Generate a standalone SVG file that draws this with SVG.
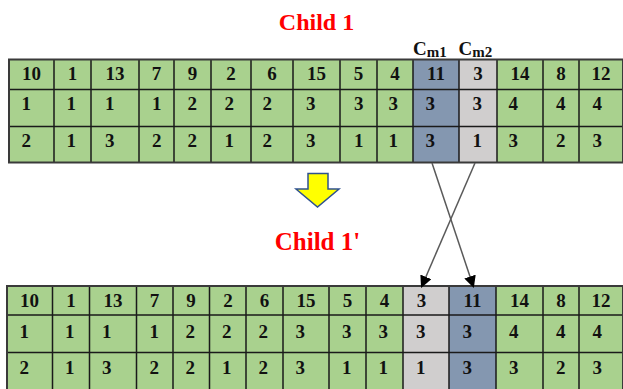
<svg xmlns="http://www.w3.org/2000/svg" width="623" height="389" viewBox="0 0 623 389">
  <defs>
    <style>
      .title { font-family: "Liberation Serif", "Times New Roman", serif; font-weight: bold; fill: #ff0000; text-anchor: middle; }
      .cell { font-family: "Liberation Serif", "Times New Roman", serif; font-weight: bold; font-size: 19px; fill: #111111; }
      .mid { text-anchor: middle; }
      .lbl { font-family: "Liberation Serif", "Times New Roman", serif; font-weight: bold; font-size: 19px; fill: #111111; }
      .green { fill: #a9d18e; }
      .blue { fill: #8497b0; }
      .grey { fill: #d0cece; }
      .grid { stroke: #1a1a1a; stroke-width: 1.5; fill: none; }
      .frame { stroke: #3a3a3a; stroke-width: 2; fill: none; }
      .link { stroke: #5a5a5a; stroke-width: 1.5; fill: none; marker-end: url(#head); }
    </style>
    <marker id="head" markerWidth="12" markerHeight="12" refX="11" refY="6" orient="auto" markerUnits="userSpaceOnUse">
      <path d="M0,0 L12,6 L0,12 Z" fill="#000000"/>
    </marker>
  </defs>

  <rect width="623" height="389" fill="#ffffff"/>

  <!-- heading of the first chromosome -->
  <g id="title-child1">
    <text class="title" x="316.5" y="29.5" font-size="24">Child 1</text>
  </g>

  <!-- column markers -->
  <g id="cm-labels">
    <text class="lbl" x="413" y="55">C<tspan font-size="15" dy="1.5">m1</tspan></text>
    <text class="lbl" x="458.5" y="55">C<tspan font-size="15" dy="1.5">m2</tspan></text>
  </g>

  <!-- first chromosome table -->
  <g id="table-child1">
    <rect class="green" x="9" y="59.5" width="613" height="103"/>
    <rect class="blue" x="413" y="59.5" width="46" height="103"/>
    <rect class="grey" x="459" y="59.5" width="38" height="103"/>
    <path class="grid" d="M9,89.5H622M9,126.5H622
      M54,59.5V162.5M91,59.5V162.5M139,59.5V162.5M174,59.5V162.5M211,59.5V162.5M251,59.5V162.5
      M293,59.5V162.5M340,59.5V162.5M377,59.5V162.5M413,59.5V162.5M459,59.5V162.5M497,59.5V162.5
      M543,59.5V162.5M579,59.5V162.5"/>
    <rect class="frame" x="9" y="59.5" width="614" height="103"/>
    <g class="cell mid">
      <text x="31.5" y="79.5">10</text><text x="72.5" y="79.5">1</text><text x="115" y="79.5">13</text>
      <text x="156.5" y="79.5">7</text><text x="192.5" y="79.5">9</text><text x="231" y="79.5">2</text>
      <text x="272" y="79.5">6</text><text x="316.5" y="79.5">15</text><text x="358.5" y="79.5">5</text>
      <text x="395" y="79.5">4</text><text x="436" y="79.5">11</text><text x="478" y="79.5">3</text>
      <text x="520" y="79.5">14</text><text x="561" y="79.5">8</text><text x="601" y="79.5">12</text>
    </g>
    <g class="cell">
      <text x="21.5" y="109.5">1</text><text x="66.5" y="109.5">1</text><text x="105" y="109.5">1</text>
      <text x="152" y="109.5">1</text><text x="187.5" y="109.5">2</text><text x="224.5" y="109.5">2</text>
      <text x="262.5" y="109.5">2</text><text x="306" y="109.5">3</text><text x="354" y="109.5">3</text>
      <text x="388.5" y="109.5">3</text><text x="425.5" y="109.5">3</text><text x="472.5" y="109.5">3</text>
      <text x="508.5" y="109.5">4</text><text x="556" y="109.5">4</text><text x="592.5" y="109.5">4</text>

      <text x="21.5" y="146.5">2</text><text x="66.5" y="146.5">1</text><text x="105" y="146.5">3</text>
      <text x="152" y="146.5">2</text><text x="187.5" y="146.5">2</text><text x="224.5" y="146.5">1</text>
      <text x="262.5" y="146.5">2</text><text x="306" y="146.5">3</text><text x="354" y="146.5">1</text>
      <text x="388.5" y="146.5">1</text><text x="425.5" y="146.5">3</text><text x="472.5" y="146.5">1</text>
      <text x="508.5" y="146.5">3</text><text x="556" y="146.5">2</text><text x="592.5" y="146.5">3</text>
    </g>
  </g>

  <!-- block arrow between the two chromosomes -->
  <g id="step-arrow">
    <polygon points="308,173.5 328,173.5 328,189 339,189 317.5,207 296,189 308,189" fill="#ffff00" stroke="#2f528f" stroke-width="1.5" stroke-linejoin="miter"/>
  </g>

  <!-- heading of the mutated chromosome -->
  <g id="title-child1p">
    <text class="title" x="317.5" y="250" font-size="25">Child 1'</text>
  </g>

  <!-- mutated chromosome table -->
  <g id="table-child1p">
    <rect class="green" x="7" y="286" width="615" height="106"/>
    <rect class="grey" x="403" y="286" width="46" height="106"/>
    <rect class="blue" x="449" y="286" width="47" height="106"/>
    <path class="grid" d="M7,315H622M7,352.5H622
      M52.5,286V392M89.5,286V392M136.5,286V392M173,286V392M209.5,286V392M246,286V392
      M283,286V392M329,286V392M366,286V392M403,286V392M449,286V392M496,286V392
      M543,286V392M579,286V392"/>
    <rect class="frame" x="7" y="286" width="616" height="106"/>
    <g class="cell mid">
      <text x="29.5" y="306.5">10</text><text x="71" y="306.5">1</text><text x="113" y="306.5">13</text>
      <text x="154.5" y="306.5">7</text><text x="191" y="306.5">9</text><text x="228" y="306.5">2</text>
      <text x="264.5" y="306.5">6</text><text x="306" y="306.5">15</text><text x="347.5" y="306.5">5</text>
      <text x="384.5" y="306.5">4</text><text x="421.5" y="306.5">3</text><text x="472.5" y="306.5">11</text>
      <text x="519.5" y="306.5">14</text><text x="561" y="306.5">8</text><text x="601" y="306.5">12</text>
    </g>
    <g class="cell">
      <text x="19.5" y="337.5">1</text><text x="65" y="337.5">1</text><text x="102" y="337.5">1</text>
      <text x="149.5" y="337.5">1</text><text x="185.5" y="337.5">2</text><text x="222" y="337.5">2</text>
      <text x="258.5" y="337.5">2</text><text x="295.5" y="337.5">3</text><text x="342" y="337.5">3</text>
      <text x="378.5" y="337.5">3</text><text x="416" y="337.5">3</text><text x="462.5" y="337.5">3</text>
      <text x="509" y="337.5">4</text><text x="556" y="337.5">4</text><text x="592.5" y="337.5">4</text>

      <text x="19.5" y="374">2</text><text x="65" y="374">1</text><text x="102" y="374">3</text>
      <text x="149.5" y="374">2</text><text x="185.5" y="374">2</text><text x="222" y="374">1</text>
      <text x="258.5" y="374">2</text><text x="295.5" y="374">3</text><text x="342" y="374">1</text>
      <text x="378.5" y="374">1</text><text x="416" y="374">1</text><text x="462.5" y="374">3</text>
      <text x="509" y="374">3</text><text x="556" y="374">2</text><text x="592.5" y="374">3</text>
    </g>
  </g>

  <!-- swap connectors -->
  <g id="connectors">
    <line class="link" x1="432" y1="163" x2="473.5" y2="287"/>
    <line class="link" x1="475" y1="163" x2="421.5" y2="287"/>
  </g>
</svg>
